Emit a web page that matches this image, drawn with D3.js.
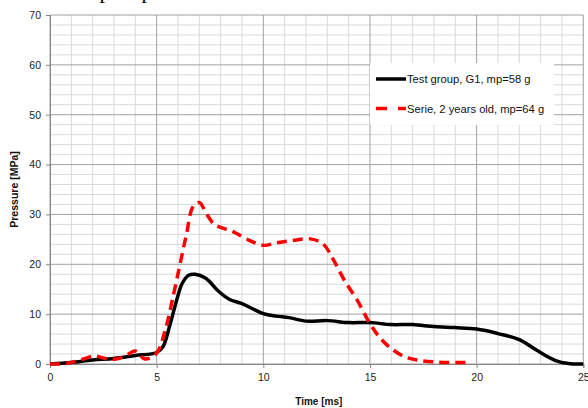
<!DOCTYPE html>
<html>
<head>
<meta charset="utf-8">
<script src="https://cdn.jsdelivr.net/npm/d3@7"></script>
<style>
  html, body { margin: 0; padding: 0; background: #fff; }
  svg { display: block; }
  text { font-family: "Liberation Sans", Arial, sans-serif; }
</style>
</head>
<body>
<svg id="chart" width="588" height="408"></svg>
<script>
// Pressure traces over time
const timeTest = [0, 1, 2, 3, 4, 5, 5.3, 5.6, 5.95, 6.2, 6.5, 6.8, 7.3, 7.9, 8.4, 9, 10, 10.6, 11.2, 12, 13, 14, 15, 16, 17, 18, 19, 20, 21, 22, 22.8, 23.7, 24.3, 25];
const pressTest = [0, 0.3, 0.8, 1.1, 1.7, 2.3, 3.5, 7.5, 13, 16.2, 17.8, 18.0, 17.2, 14.6, 13, 12.1, 10.1, 9.6, 9.3, 8.6, 8.7, 8.3, 8.3, 7.9, 7.9, 7.5, 7.3, 7.0, 6.1, 4.9, 2.8, 0.7, 0.1, 0];

const timeSerie = [0, 0.5, 1, 1.5, 2.1, 2.6, 3.1, 3.6, 4.0, 4.45, 5.0, 5.4, 5.8, 6.1, 6.4, 6.7, 7.0, 7.35, 7.7, 8.0, 8.6, 9.2, 10, 10.6, 11.4, 12.2, 12.8, 13.3, 13.8, 14.4, 15, 15.5, 16, 16.6, 17.2, 18.1, 19.6];
const pressSerie = [0, 0, 0.3, 0.9, 1.6, 1.1, 1.0, 1.8, 2.6, 1.0, 2.2, 6.8, 14.1, 20.1, 26.1, 31.5, 32.4, 30, 28, 27.4, 26.5, 25.1, 23.8, 24.3, 24.8, 25.1, 24.1, 20.8, 16.8, 12.8, 8.1, 5.1, 3.1, 1.5, 0.8, 0.4, 0.3];

const xTicks = [0, 5, 10, 15, 20, 25];
const yTicks = [0, 10, 20, 30, 40, 50, 60, 70];
const seriesNames = ["Test group, G1, mp=58 g", "Serie, 2 years old, mp=64 g"];

const svg = d3.select("#chart");
const x = d3.scaleLinear().domain([0, 25]).range([50, 583.3]);
const y = d3.scaleLinear().domain([0, 70]).range([364, 15]);

// Caption text running above the chart area
svg.append("g")
  .selectAll("text").data([105, 147]).join("text")
  .attr("x", d => d).attr("y", -2)
  .attr("text-anchor", "middle")
  .style("font-family", "'Liberation Serif', serif")
  .style("font-size", "22px")
  .attr("fill", "#000")
  .text("p");

// Grid: minor then major
const grid = svg.append("g");
grid.selectAll(".vminor").data(d3.range(0, 26, 1).filter(v => v % 5 !== 0)).join("line")
  .attr("x1", d => x(d)).attr("x2", d => x(d))
  .attr("y1", y(0)).attr("y2", y(70))
  .attr("stroke", "#d9d9d9").attr("stroke-width", 1);
grid.selectAll(".hminor").data(d3.range(0, 71, 2).filter(v => v % 10 !== 0)).join("line")
  .attr("x1", x(0)).attr("x2", x(25))
  .attr("y1", d => y(d)).attr("y2", d => y(d))
  .attr("stroke", "#d9d9d9").attr("stroke-width", 1);
grid.selectAll(".vmajor").data(xTicks).join("line")
  .attr("x1", d => x(d)).attr("x2", d => x(d))
  .attr("y1", y(0)).attr("y2", y(70))
  .attr("stroke", "#a0a0a0").attr("stroke-width", 1);
grid.selectAll(".hmajor").data(yTicks).join("line")
  .attr("x1", x(0)).attr("x2", x(25))
  .attr("y1", d => y(d)).attr("y2", d => y(d))
  .attr("stroke", "#a0a0a0").attr("stroke-width", 1);

// Axes
const xAxis = svg.append("g").attr("transform", `translate(0,${y(0)})`)
  .call(d3.axisBottom(x).tickValues(xTicks).tickSize(4).tickPadding(6));
const yAxis = svg.append("g").attr("transform", `translate(${x(0)},0)`)
  .call(d3.axisLeft(y).tickValues(yTicks).tickSize(4).tickPadding(5));
[xAxis, yAxis].forEach(a => {
  a.select(".domain").attr("stroke", "#868686");
  a.selectAll(".tick line").attr("stroke", "#868686");
  a.selectAll(".tick text")
    .style("font-family", "'Liberation Sans', Arial, sans-serif")
    .style("font-size", "10.5px").attr("fill", "#222");
});

// Axis titles
svg.append("text")
  .attr("x", x(12.6)).attr("y", 405)
  .attr("text-anchor", "middle")
  .style("font-size", "10px").style("font-weight", "bold")
  .attr("fill", "#111")
  .text("Time [ms]");
svg.append("text")
  .attr("transform", `translate(18,${(y(0) + y(70)) / 2}) rotate(-90)`)
  .attr("text-anchor", "middle")
  .style("font-size", "10.5px").style("font-weight", "bold")
  .attr("fill", "#111")
  .text("Pressure [MPa]");

// Curves
const line = d3.line().curve(d3.curveCatmullRom.alpha(0.5))
  .x(d => x(d[0])).y(d => y(d[1]));
svg.append("path")
  .datum(d3.zip(timeTest, pressTest))
  .attr("d", line)
  .attr("fill", "none").attr("stroke", "#000").attr("stroke-width", 3.5)
  .attr("stroke-linejoin", "round");
svg.append("path")
  .datum(d3.zip(timeSerie, pressSerie))
  .attr("d", line)
  .attr("fill", "none").attr("stroke", "#ff0000").attr("stroke-width", 3.5)
  .attr("stroke-dasharray", "10,6");

// Legend
const legend = svg.append("g");
legend.append("rect")
  .attr("x", 370).attr("y", 63).attr("width", 184).attr("height", 62)
  .attr("fill", "#fff");
const rows = [
  { name: seriesNames[0], color: "#000", dash: null, yy: 79 },
  { name: seriesNames[1], color: "#ff0000", dash: "11,11", yy: 108.5 }
];
rows.forEach(r => {
  legend.append("line")
    .attr("x1", 376).attr("x2", 406).attr("y1", r.yy).attr("y2", r.yy)
    .attr("stroke", r.color).attr("stroke-width", 3.5)
    .attr("stroke-dasharray", r.dash);
  legend.append("text")
    .attr("x", 407).attr("y", r.yy + 4)
    .style("font-size", "11.2px").attr("fill", "#111")
    .text(r.name);
});
</script>
</body>
</html>
